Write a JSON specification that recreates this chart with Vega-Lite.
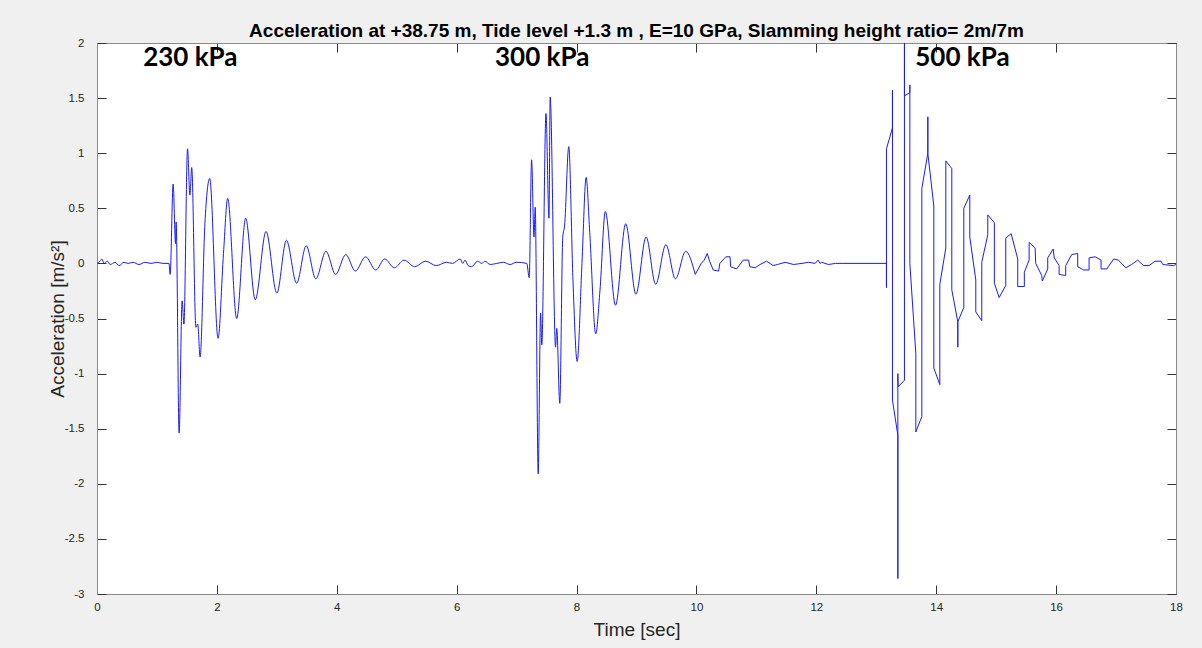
{
  "$schema": "https://vega.github.io/schema/vega-lite/v6.json",
  "width": 1079,
  "height": 551,
  "autosize": {"type": "none"},
  "padding": {"left": 97, "top": 43, "right": 26, "bottom": 54},
  "background": "#f0f0f0",
  "view": {"fill": "white", "stroke": null},
  "title": {
    "text": "Acceleration at +38.75 m, Tide level +1.3 m , E=10 GPa, Slamming height ratio= 2m/7m",
    "font": "Liberation Sans",
    "fontSize": 19,
    "fontWeight": "bold",
    "color": "#000000",
    "anchor": "middle",
    "offset": -4
  },
  "datasets": {
    "smooth": [
      {"t": 0.0, "v": 0.0}, {"t": 0.05, "v": 0.02}, {"t": 0.08, "v": 0.04}, {"t": 0.12, "v": 0.0},
      {"t": 0.17, "v": 0.02}, {"t": 0.22, "v": -0.01}, {"t": 0.3, "v": 0.01}, {"t": 0.37, "v": -0.02},
      {"t": 0.45, "v": 0.01}, {"t": 0.52, "v": 0.0}, {"t": 0.6, "v": 0.01}, {"t": 0.7, "v": -0.01},
      {"t": 0.8, "v": 0.01}, {"t": 0.9, "v": 0.0}, {"t": 1.0, "v": 0.01}, {"t": 1.1, "v": 0.0},
      {"t": 1.2, "v": 0.0}, {"t": 1.22, "v": -0.1}, {"t": 1.27, "v": 0.72}, {"t": 1.31, "v": 0.18},
      {"t": 1.32, "v": 0.375}, {"t": 1.37, "v": -1.54}, {"t": 1.42, "v": -0.34}, {"t": 1.45, "v": -0.55},
      {"t": 1.51, "v": 1.04}, {"t": 1.55, "v": 0.62}, {"t": 1.58, "v": 0.87}, {"t": 1.65, "v": -0.58},
      {"t": 1.68, "v": -0.55}, {"t": 1.72, "v": -0.85}, {"t": 1.8, "v": 0.36}, {"t": 1.88, "v": 0.77},
      {"t": 2.02, "v": -0.68}, {"t": 2.11, "v": 0.09}, {"t": 2.18, "v": 0.59}, {"t": 2.33, "v": -0.5},
      {"t": 2.48, "v": 0.41}, {"t": 2.64, "v": -0.33}, {"t": 2.82, "v": 0.29}, {"t": 3.0, "v": -0.27},
      {"t": 3.16, "v": 0.21}, {"t": 3.33, "v": -0.18}, {"t": 3.49, "v": 0.16}, {"t": 3.65, "v": -0.14},
      {"t": 3.82, "v": 0.11}, {"t": 3.98, "v": -0.1}, {"t": 4.15, "v": 0.08}, {"t": 4.31, "v": -0.07},
      {"t": 4.48, "v": 0.06}, {"t": 4.65, "v": -0.06}, {"t": 4.8, "v": 0.04}, {"t": 4.96, "v": -0.04},
      {"t": 5.12, "v": 0.03}, {"t": 5.3, "v": -0.03}, {"t": 5.48, "v": 0.02}, {"t": 5.66, "v": -0.02},
      {"t": 5.83, "v": 0.01}, {"t": 5.93, "v": 0.0}, {"t": 6.06, "v": 0.04}, {"t": 6.1, "v": 0.0},
      {"t": 6.14, "v": 0.03}, {"t": 6.19, "v": -0.02}, {"t": 6.25, "v": -0.03}, {"t": 6.35, "v": 0.02},
      {"t": 6.42, "v": 0.0}, {"t": 6.47, "v": 0.02}, {"t": 6.56, "v": -0.01}, {"t": 6.67, "v": 0.0},
      {"t": 6.78, "v": 0.01}, {"t": 6.89, "v": -0.01}, {"t": 7.0, "v": 0.01}, {"t": 7.17, "v": 0.0},
      {"t": 7.21, "v": -0.13}, {"t": 7.25, "v": 0.94}, {"t": 7.29, "v": 0.24}, {"t": 7.31, "v": 0.51},
      {"t": 7.36, "v": -1.91}, {"t": 7.4, "v": -0.45}, {"t": 7.42, "v": -0.74}, {"t": 7.49, "v": 1.36},
      {"t": 7.54, "v": 0.41}, {"t": 7.56, "v": 1.51}, {"t": 7.65, "v": -0.76}, {"t": 7.67, "v": -0.59},
      {"t": 7.72, "v": -1.27}, {"t": 7.77, "v": 0.24}, {"t": 7.8, "v": 0.34}, {"t": 7.87, "v": 1.06},
      {"t": 7.94, "v": -0.15}, {"t": 8.01, "v": -0.89}, {"t": 8.09, "v": 0.0}, {"t": 8.16, "v": 0.78},
      {"t": 8.22, "v": 0.28}, {"t": 8.32, "v": -0.64}, {"t": 8.39, "v": -0.25}, {"t": 8.48, "v": 0.47},
      {"t": 8.65, "v": -0.38}, {"t": 8.82, "v": 0.36}, {"t": 8.99, "v": -0.28}, {"t": 9.16, "v": 0.24},
      {"t": 9.32, "v": -0.19}, {"t": 9.49, "v": 0.17}, {"t": 9.65, "v": -0.14}, {"t": 9.82, "v": 0.11},
      {"t": 9.98, "v": -0.1}
    ],
    "stepped": [
      {"i": 0, "t": 9.98, "v": -0.1}, {"i": 1, "t": 10.08, "v": 0.0}, {"i": 2, "t": 10.13, "v": 0.03},
      {"i": 3, "t": 10.18, "v": 0.09}, {"i": 4, "t": 10.22, "v": 0.02}, {"i": 5, "t": 10.28, "v": -0.06},
      {"i": 6, "t": 10.37, "v": -0.07}, {"i": 7, "t": 10.39, "v": 0.0}, {"i": 8, "t": 10.49, "v": 0.06},
      {"i": 9, "t": 10.56, "v": 0.06}, {"i": 10, "t": 10.57, "v": -0.03}, {"i": 11, "t": 10.67, "v": -0.05},
      {"i": 12, "t": 10.78, "v": 0.03}, {"i": 13, "t": 10.87, "v": 0.03}, {"i": 14, "t": 10.89, "v": -0.03},
      {"i": 15, "t": 10.98, "v": -0.04}, {"i": 16, "t": 11.06, "v": -0.01}, {"i": 17, "t": 11.17, "v": 0.02},
      {"i": 18, "t": 11.28, "v": -0.02}, {"i": 19, "t": 11.35, "v": -0.01}, {"i": 20, "t": 11.48, "v": 0.01},
      {"i": 21, "t": 11.62, "v": -0.01}, {"i": 22, "t": 11.76, "v": 0.0}, {"i": 23, "t": 11.87, "v": 0.01},
      {"i": 24, "t": 11.98, "v": 0.0}, {"i": 25, "t": 12.03, "v": 0.03}, {"i": 26, "t": 12.06, "v": 0.0},
      {"i": 27, "t": 12.09, "v": 0.01}, {"i": 28, "t": 12.2, "v": -0.01}, {"i": 29, "t": 12.32, "v": 0.0},
      {"i": 30, "t": 12.43, "v": 0.0}, {"i": 31, "t": 13.17, "v": 0.0}, {"i": 32, "t": 13.17, "v": -0.22},
      {"i": 33, "t": 13.17, "v": 1.04}, {"i": 34, "t": 13.27, "v": 1.23}, {"i": 35, "t": 13.27, "v": 1.57},
      {"i": 36, "t": 13.27, "v": -1.24}, {"i": 37, "t": 13.36, "v": -1.56}, {"i": 38, "t": 13.36, "v": -2.86},
      {"i": 39, "t": 13.36, "v": -1.0}, {"i": 40, "t": 13.365, "v": -1.12}, {"i": 41, "t": 13.47, "v": -1.06},
      {"i": 42, "t": 13.47, "v": 2.6}, {"i": 43, "t": 13.47, "v": 1.52}, {"i": 44, "t": 13.56, "v": 1.55},
      {"i": 45, "t": 13.56, "v": 1.62}, {"i": 46, "t": 13.56, "v": 0.0}, {"i": 47, "t": 13.66, "v": -0.82},
      {"i": 48, "t": 13.66, "v": -1.53}, {"i": 49, "t": 13.76, "v": -1.39}, {"i": 50, "t": 13.76, "v": 0.68},
      {"i": 51, "t": 13.86, "v": 1.0}, {"i": 52, "t": 13.86, "v": 1.33}, {"i": 53, "t": 13.86, "v": 1.0},
      {"i": 54, "t": 13.96, "v": 0.52}, {"i": 55, "t": 13.96, "v": -0.95}, {"i": 56, "t": 14.06, "v": -1.1},
      {"i": 57, "t": 14.06, "v": -0.19}, {"i": 58, "t": 14.16, "v": 0.14}, {"i": 59, "t": 14.16, "v": 0.93},
      {"i": 60, "t": 14.26, "v": 0.86}, {"i": 61, "t": 14.26, "v": -0.24}, {"i": 62, "t": 14.36, "v": -0.53},
      {"i": 63, "t": 14.36, "v": -0.76}, {"i": 64, "t": 14.36, "v": -0.53}, {"i": 65, "t": 14.46, "v": -0.4},
      {"i": 66, "t": 14.46, "v": 0.5}, {"i": 67, "t": 14.56, "v": 0.62}, {"i": 68, "t": 14.56, "v": 0.24},
      {"i": 69, "t": 14.66, "v": -0.15}, {"i": 70, "t": 14.66, "v": -0.44}, {"i": 71, "t": 14.76, "v": -0.52},
      {"i": 72, "t": 14.76, "v": 0.01}, {"i": 73, "t": 14.86, "v": 0.26}, {"i": 74, "t": 14.86, "v": 0.44},
      {"i": 75, "t": 14.97, "v": 0.37}, {"i": 76, "t": 14.97, "v": -0.18}, {"i": 77, "t": 15.05, "v": -0.31},
      {"i": 78, "t": 15.16, "v": -0.2}, {"i": 79, "t": 15.16, "v": 0.23}, {"i": 80, "t": 15.25, "v": 0.27},
      {"i": 81, "t": 15.36, "v": 0.04}, {"i": 82, "t": 15.36, "v": -0.21}, {"i": 83, "t": 15.47, "v": -0.21},
      {"i": 84, "t": 15.47, "v": -0.08}, {"i": 85, "t": 15.55, "v": 0.03}, {"i": 86, "t": 15.55, "v": 0.19},
      {"i": 87, "t": 15.65, "v": 0.14}, {"i": 88, "t": 15.66, "v": 0.0}, {"i": 89, "t": 15.76, "v": -0.11},
      {"i": 90, "t": 15.77, "v": -0.16}, {"i": 91, "t": 15.86, "v": -0.05}, {"i": 92, "t": 15.86, "v": 0.05},
      {"i": 93, "t": 15.95, "v": 0.13}, {"i": 94, "t": 15.97, "v": 0.05}, {"i": 95, "t": 16.05, "v": -0.02},
      {"i": 96, "t": 16.05, "v": -0.1}, {"i": 97, "t": 16.16, "v": -0.11}, {"i": 98, "t": 16.16, "v": -0.02},
      {"i": 99, "t": 16.26, "v": 0.08}, {"i": 100, "t": 16.36, "v": 0.09}, {"i": 101, "t": 16.36, "v": -0.03},
      {"i": 102, "t": 16.46, "v": -0.06}, {"i": 103, "t": 16.55, "v": -0.06}, {"i": 104, "t": 16.55, "v": 0.05},
      {"i": 105, "t": 16.65, "v": 0.06}, {"i": 106, "t": 16.75, "v": 0.03}, {"i": 107, "t": 16.75, "v": -0.05},
      {"i": 108, "t": 16.85, "v": -0.05}, {"i": 109, "t": 16.87, "v": -0.03}, {"i": 110, "t": 16.96, "v": 0.04},
      {"i": 111, "t": 17.04, "v": 0.03}, {"i": 112, "t": 17.16, "v": -0.04}, {"i": 113, "t": 17.26, "v": -0.01},
      {"i": 114, "t": 17.36, "v": 0.03}, {"i": 115, "t": 17.46, "v": -0.02}, {"i": 116, "t": 17.55, "v": -0.02},
      {"i": 117, "t": 17.65, "v": 0.02}, {"i": 118, "t": 17.75, "v": 0.02}, {"i": 119, "t": 17.78, "v": -0.01},
      {"i": 120, "t": 17.96, "v": -0.02}, {"i": 121, "t": 18.0, "v": -0.01}
    ],
    "labels": [
      {"t": 0.77, "v": 1.79, "label": "230 kPa"},
      {"t": 6.64, "v": 1.79, "label": "300 kPa"},
      {"t": 13.65, "v": 1.79, "label": "500 kPa"}
    ]
  },
  "layer": [
    {
      "data": {"name": "smooth"},
      "mark": {"type": "line", "interpolate": "monotone", "color": "#1a1aff", "strokeWidth": 1, "clip": true},
      "encoding": {
        "x": {
          "field": "t", "type": "quantitative",
          "scale": {"domain": [0, 18], "nice": false, "zero": false},
          "axis": {
            "orient": "bottom",
            "values": [0, 2, 4, 6, 8, 10, 12, 14, 16, 18],
            "labelExpr": "'' + datum.value",
            "title": "Time [sec]",
            "titlePadding": 8,
            "tickSize": -9,
            "labelPadding": 16,
            "labelFlush": false
          }
        },
        "y": {
          "field": "v", "type": "quantitative",
          "scale": {"domain": [-3, 2], "nice": false, "zero": false},
          "axis": {
            "orient": "left",
            "values": [-3, -2.5, -2, -1.5, -1, -0.5, 0, 0.5, 1, 1.5, 2],
            "labelExpr": "'' + datum.value",
            "title": "Acceleration [m/s²]",
            "titlePadding": -3,
            "tickSize": -9,
            "labelPadding": 22,
            "labelFlush": false
          }
        }
      }
    },
    {
      "data": {"name": "stepped"},
      "mark": {"type": "line", "interpolate": "linear", "color": "#1a1aff", "strokeWidth": 1, "clip": true},
      "encoding": {
        "x": {
          "field": "t", "type": "quantitative",
          "axis": {
            "orient": "top",
            "values": [0, 2, 4, 6, 8, 10, 12, 14, 16, 18],
            "labels": false,
            "title": null,
            "tickSize": -9
          }
        },
        "y": {
          "field": "v", "type": "quantitative",
          "axis": {
            "orient": "right",
            "values": [-3, -2.5, -2, -1.5, -1, -0.5, 0, 0.5, 1, 1.5, 2],
            "labels": false,
            "title": null,
            "tickSize": -9
          }
        },
        "order": {"field": "i", "type": "quantitative"}
      }
    },
    {
      "data": {"name": "labels"},
      "mark": {"type": "text", "align": "left", "baseline": "alphabetic", "font": "Lato", "fontWeight": "bold", "fontSize": 26, "color": "#000000"},
      "encoding": {
        "x": {"field": "t", "type": "quantitative", "axis": null},
        "y": {"field": "v", "type": "quantitative", "axis": null},
        "text": {"field": "label", "type": "nominal"}
      }
    }
  ],
  "resolve": {"axis": {"x": "independent", "y": "independent"}},
  "config": {
    "axis": {
      "grid": false,
      "domainColor": "#8a8a8a",
      "domainWidth": 1,
      "tickColor": "#333333",
      "tickWidth": 1,
      "labelFont": "Liberation Sans",
      "labelFontSize": 11.5,
      "labelColor": "#262626",
      "titleFont": "Liberation Sans",
      "titleFontSize": 19,
      "titleFontWeight": "normal",
      "titleColor": "#262626"
    }
  }
}
